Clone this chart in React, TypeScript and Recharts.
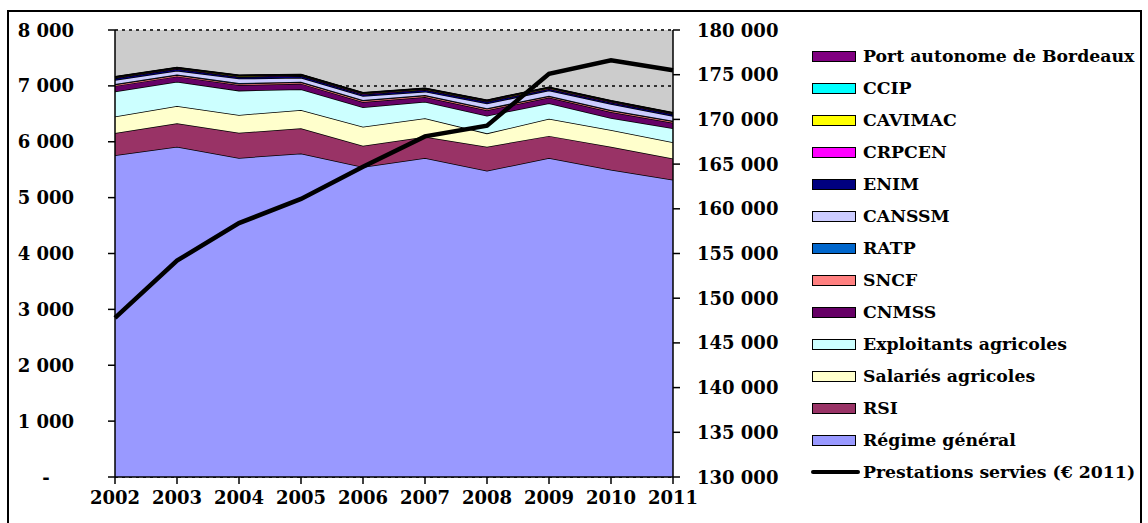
import React from "react";
import {
  ComposedChart,
  Area,
  Line,
  XAxis,
  YAxis,
  CartesianGrid,
  Legend,
} from "recharts";

const years = ["2002", "2003", "2004", "2005", "2006", "2007", "2008", "2009", "2010", "2011"];

const regimeGeneral = [5760, 5910, 5710, 5790, 5550, 5710, 5480, 5710, 5500, 5320];
const rsi = [395, 420, 450, 450, 380, 380, 430, 395, 410, 380];
const salariesAgricoles = [295, 310, 320, 330, 340, 330, 240, 305, 300, 290];
const exploitantsAgricoles = [450, 435, 435, 370, 347, 297, 315, 280, 214, 250];
const cnmss = [100, 95, 100, 100, 95, 85, 100, 100, 110, 100];
const sncf = [25, 25, 25, 25, 25, 25, 25, 25, 25, 25];
const ratp = [10, 10, 10, 10, 10, 10, 10, 10, 10, 10];
const canssm = [70, 65, 80, 70, 70, 60, 85, 90, 105, 85];
const enim = [30, 30, 30, 30, 30, 30, 30, 30, 30, 30];
const crpcen = [10, 10, 10, 10, 10, 10, 10, 10, 10, 10];
const cavimac = [10, 10, 10, 10, 10, 10, 10, 10, 10, 10];
const ccip = [5, 5, 5, 5, 5, 5, 5, 5, 5, 5];
const portBordeaux = [5, 5, 5, 5, 5, 5, 5, 5, 5, 5];
const prestations = [147800, 154200, 158400, 161100, 164700, 168100, 169300, 175100, 176600, 175500];

const leftTicks = [0, 1000, 2000, 3000, 4000, 5000, 6000, 7000, 8000];
const rightTicks = [130000, 135000, 140000, 145000, 150000, 155000, 160000, 165000, 170000, 175000, 180000];

const seriesDefs = [
  { key: "regimeGeneral", name: "Régime général", values: regimeGeneral, color: "#9999FF" },
  { key: "rsi", name: "RSI", values: rsi, color: "#993366" },
  { key: "salaries", name: "Salariés agricoles", values: salariesAgricoles, color: "#FFFFCC" },
  { key: "exploitants", name: "Exploitants agricoles", values: exploitantsAgricoles, color: "#CCFFFF" },
  { key: "cnmss", name: "CNMSS", values: cnmss, color: "#660066" },
  { key: "sncf", name: "SNCF", values: sncf, color: "#FF8080" },
  { key: "ratp", name: "RATP", values: ratp, color: "#0066CC" },
  { key: "canssm", name: "CANSSM", values: canssm, color: "#CCCCFF" },
  { key: "enim", name: "ENIM", values: enim, color: "#000080" },
  { key: "crpcen", name: "CRPCEN", values: crpcen, color: "#FF00FF" },
  { key: "cavimac", name: "CAVIMAC", values: cavimac, color: "#FFFF00" },
  { key: "ccip", name: "CCIP", values: ccip, color: "#00FFFF" },
  { key: "port", name: "Port autonome de Bordeaux", values: portBordeaux, color: "#800080" },
];

const lineName = "Prestations servies (€ 2011)";

const data = years.map((y, i) => {
  const row: Record<string, string | number> = { year: y, prestations: prestations[i] };
  seriesDefs.forEach((s) => {
    row[s.key] = s.values[i];
  });
  return row;
});

const FONT = "'DejaVu Serif', serif";
const FS = 18;
const LFS = 17.3;

const fmt = (v: number) => String(v).replace(/\B(?=(\d{3})+(?!\d))/g, " ");

const LeftTick = (props: any) => {
  const { x, y, payload } = props;
  const v = payload.value as number;
  if (v === 0) {
    return (
      <text x={x - 28} y={y} textAnchor="middle" dominantBaseline="central" fontFamily={FONT} fontWeight="bold" fontSize={FS} fill="#000">
        -
      </text>
    );
  }
  return (
    <text x={x} y={y} textAnchor="end" dominantBaseline="central" fontFamily={FONT} fontWeight="bold" fontSize={FS} fill="#000">
      {fmt(v)}
    </text>
  );
};

const RightTick = (props: any) => {
  const { x, y, payload } = props;
  return (
    <text x={x} y={y} textAnchor="start" dominantBaseline="central" fontFamily={FONT} fontWeight="bold" fontSize={FS} fill="#000">
      {fmt(payload.value)}
    </text>
  );
};

const BottomTick = (props: any) => {
  const { x, y, payload } = props;
  return (
    <text x={x} y={y} textAnchor="middle" dominantBaseline="central" fontFamily={FONT} fontWeight="bold" fontSize={FS} fill="#000">
      {payload.value}
    </text>
  );
};

const LegendContent = () => {
  const items = [...seriesDefs].reverse();
  return (
    <div style={{ fontFamily: FONT, fontWeight: "bold", fontSize: LFS, color: "#000" }}>
      {items.map((s) => (
        <div key={s.key} style={{ height: 32, display: "flex", alignItems: "center" }}>
          <div
            style={{
              width: 44,
              height: 11,
              background: s.color,
              border: "1.5px solid #000",
              boxSizing: "border-box",
              marginRight: 7,
            }}
          />
          <span style={{ whiteSpace: "nowrap" }}>{s.name}</span>
        </div>
      ))}
      <div style={{ height: 32, display: "flex", alignItems: "center" }}>
        <div style={{ width: 49, height: 4, background: "#000", borderRadius: 2, marginLeft: -1, marginRight: 3 }} />
        <span style={{ whiteSpace: "nowrap" }}>{lineName}</span>
      </div>
    </div>
  );
};

export default function App() {
  return (
    <div style={{ position: "absolute", left: 0, top: 0, width: 1148, height: 523, background: "#fff", overflow: "hidden" }}>
      <div
        style={{
          position: "absolute",
          left: 7,
          top: 10,
          width: 1135,
          height: 540,
          border: "2px solid #000",
          boxSizing: "border-box",
        }}
      />
      <div style={{ position: "absolute", left: 0, top: 0 }}>
        <ComposedChart
          width={1148}
          height={523}
          data={data}
          margin={{ top: 30, right: 355, bottom: 6, left: 0 }}
        >
          <CartesianGrid
            yAxisId="left"
            vertical={false}
            horizontal={true}
            fill="#CCCCCC"
            stroke="#333"
            strokeWidth={2}
            strokeDasharray="3 4"
          />
          <XAxis
            dataKey="year"
            scale="point"
            padding={{ left: 0, right: 0 }}
            height={40}
            stroke="#000"
            strokeWidth={1.5}
            tickSize={7}
            tickMargin={13}
            tick={<BottomTick />}
            interval={0}
          />
          <YAxis
            yAxisId="left"
            orientation="left"
            width={115}
            domain={[0, 8000]}
            ticks={leftTicks}
            allowDataOverflow
            stroke="#000"
            strokeWidth={1.5}
            tickSize={7}
            tickMargin={34}
            tick={<LeftTick />}
            interval={0}
          />
          <YAxis
            yAxisId="right"
            orientation="right"
            width={120}
            domain={[130000, 180000]}
            ticks={rightTicks}
            allowDataOverflow
            stroke="#000"
            strokeWidth={1.5}
            tickSize={7}
            tickMargin={17}
            tick={<RightTick />}
            interval={0}
          />
          {seriesDefs.map((s) => (
            <Area
              key={s.key}
              yAxisId="left"
              type="linear"
              dataKey={s.key}
              name={s.name}
              stackId="a"
              fill={s.color}
              fillOpacity={1}
              stroke="#000"
              strokeWidth={1.5}
              isAnimationActive={false}
              dot={false}
              activeDot={false}
            />
          ))}
          <Line
            yAxisId="right"
            type="linear"
            dataKey="prestations"
            name={lineName}
            stroke="#000"
            strokeWidth={4.5}
            dot={false}
            activeDot={false}
            isAnimationActive={false}
          />
          <Legend
            layout="horizontal"
            verticalAlign="middle"
            align="center"
            content={<LegendContent />}
            wrapperStyle={{ position: "absolute", left: 812, top: 40, width: 336, height: 450 }}
          />
        </ComposedChart>
      </div>
    </div>
  );
}
